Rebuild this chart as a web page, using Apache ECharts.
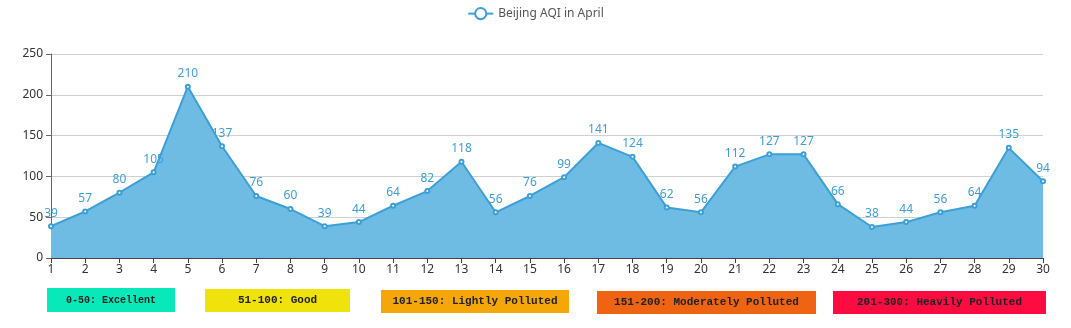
<!DOCTYPE html>
<html>
<head>
<meta charset="utf-8">
<script src="https://cdn.jsdelivr.net/npm/echarts@6/dist/echarts.min.js"></script>
<style>
html,body{margin:0;padding:0;background:#fff;}
#chart{width:1071px;height:328px;}
</style>
</head>
<body>
<div id="chart"></div>
<script>
// Daily AQI readings for Beijing, April
const days = ['1','2','3','4','5','6','7','8','9','10','11','12','13','14','15','16','17','18','19','20','21','22','23','24','25','26','27','28','29','30'];
const aqi = [39,57,80,105,210,137,76,60,39,44,64,82,118,56,76,99,141,124,62,56,112,127,127,66,38,44,56,64,135,94];
const yTicks = [0,50,100,150,200,250];

// Air-quality level key shown under the chart
const levelNames = ['0-50: Excellent','51-100: Good','101-150: Lightly Polluted','151-200: Moderately Polluted','201-300: Heavily Polluted'];
const levelColors = ['#08e8b9','#f0e30c','#f5a70a','#ef6413','#fd0b41'];

const chart = echarts.init(document.getElementById('chart'));
const uiFont = '"Noto Sans", "Open Sans", sans-serif';

// boxes of the level key: [left, top, width, height, fontSize]
const keyBoxes = [[47,288,128,24,10],[205,289,145,23,11],[381,290,188,23,11],[597,291,219,23,11],[833,291,213,23,11]];

chart.setOption({
  animation: false,
  textStyle: {fontFamily: uiFont},
  legend: {
    top: 2,
    data: ['Beijing AQI in April'],
    itemWidth: 25,
    itemHeight: 14,
    textStyle: {color: '#555', fontSize: 12, fontFamily: uiFont}
  },
  grid: {left: 51, right: 28, top: 54, bottom: 70},
  xAxis: {
    type: 'category',
    boundaryGap: false,
    data: days,
    axisLine: {show: true, lineStyle: {color: '#444'}},
    axisTick: {show: true, alignWithLabel: true},
    axisLabel: {color: '#333', fontSize: 12, margin: 6}
  },
  yAxis: {
    type: 'value',
    min: yTicks[0],
    max: yTicks[yTicks.length - 1],
    interval: 50,
    axisLine: {show: true, lineStyle: {color: '#666'}},
    axisTick: {show: true},
    axisLabel: {color: '#333', fontSize: 12},
    splitLine: {lineStyle: {color: '#d0d0d0'}}
  },
  series: [{
    name: 'Beijing AQI in April',
    type: 'line',
    data: aqi,
    symbol: 'emptyCircle',
    symbolSize: 4,
    color: '#3d9fd8',
    lineStyle: {width: 2, color: '#3d9fd8'},
    itemStyle: {color: '#3d9fd8', borderColor: '#3d9fd8'},
    areaStyle: {color: '#6ebce4', opacity: 1},
    label: {show: true, position: 'top', color: '#3d9fd8', fontSize: 12, distance: 4}
  }],
  graphic: keyBoxes.map((b, i) => ({
    type: 'rect',
    left: b[0],
    top: b[1],
    shape: {width: b[2], height: b[3]},
    style: {fill: levelColors[i]},
    textContent: {
      style: {
        text: levelNames[i],
        fill: '#222',
        fontFamily: 'Liberation Mono',
        fontSize: b[4],
        fontWeight: 'bold'
      }
    },
    textConfig: {position: 'inside'}
  }))
});
</script>
</body>
</html>
